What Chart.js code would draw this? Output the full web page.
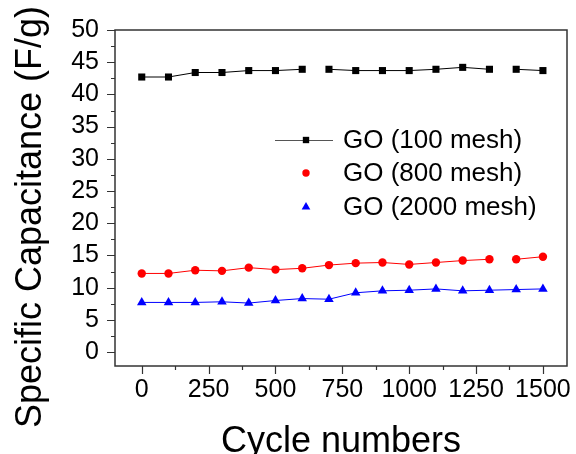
<!DOCTYPE html>
<html>
<head>
<meta charset="utf-8">
<script src="https://cdn.jsdelivr.net/npm/chart.js@4"></script>
<style>
  html, body { margin: 0; padding: 0; background: #fff; }
  #wrap { width: 576px; height: 454px; }
</style>
</head>
<body>
<div id="wrap"><canvas id="chartCap" width="576" height="454"></canvas></div>
<script>
// cycle numbers on x
const CYCLES = [0, 100, 200, 300, 400, 500, 600, 700, 800, 900, 1000, 1100, 1200, 1300, 1400, 1500];

// specific capacitance (F/g) for each mesh size
const GO_100 = [42.7, 42.7, 43.4, 43.4, 43.7, 43.7, 43.9, 43.9, 43.7, 43.7, 43.7, 43.9, 44.2, 43.9, 43.9, 43.7];
const GO_800 = [12.2, 12.2, 12.7, 12.6, 13.1, 12.8, 13.0, 13.5, 13.8, 13.9, 13.6, 13.9, 14.2, 14.4, 14.4, 14.8];
const GO_2000 = [7.7, 7.7, 7.7, 7.8, 7.6, 8.0, 8.3, 8.2, 9.2, 9.5, 9.6, 9.8, 9.5, 9.6, 9.7, 9.8];

const SERIES_NAMES = ['GO (100 mesh)', 'GO (800 mesh)', 'GO (2000 mesh)'];

// tick values (majors get labels)
const X_TICKS = [0, 125, 250, 375, 500, 625, 750, 875, 1000, 1125, 1250, 1375, 1500];
const X_LABELS = [0, 250, 500, 750, 1000, 1250, 1500];
const Y_TICKS = [0, 2.5, 5, 7.5, 10, 12.5, 15, 17.5, 20, 22.5, 25, 27.5, 30, 32.5, 35, 37.5, 40, 42.5, 45, 47.5, 50];
const Y_LABELS = [0, 5, 10, 15, 20, 25, 30, 35, 40, 45, 50];

const FONT = '"Liberation Sans", Arial, sans-serif';

function toPoints(ys) {
  return CYCLES.map((c, i) => ({ x: c, y: ys[i] }));
}

// some segments are missing in the original plot
function gapColor(color, gaps) {
  return ctx => gaps.includes(ctx.p0DataIndex) ? 'rgba(0,0,0,0)' : color;
}

const STYLES = [
  { color: '#000000', point: 'rect', radius: 5, gaps: [6, 13] },
  { color: '#ff0000', point: 'circle', radius: 4.2, gaps: [13] },
  { color: '#0000ff', point: 'triangle', radius: 5.5, gaps: [] }
];

const datasets = [GO_100, GO_800, GO_2000].map((ys, i) => ({
  label: SERIES_NAMES[i],
  data: toPoints(ys),
  borderColor: STYLES[i].color,
  backgroundColor: STYLES[i].color,
  borderWidth: 1,
  pointStyle: STYLES[i].point,
  pointRadius: STYLES[i].radius,
  pointBorderWidth: 0,
  segment: { borderColor: gapColor(STYLES[i].color, STYLES[i].gaps) }
}));

const framePlugin = {
  id: 'frame',
  afterDraw(chart) {
    const { ctx, chartArea: a, scales: { x, y } } = chart;
    ctx.save();

    // box
    ctx.strokeStyle = '#333';
    ctx.lineWidth = 1.5;
    ctx.strokeRect(a.left, a.top, a.right - a.left, a.bottom - a.top);

    // outward ticks
    ctx.lineWidth = 1.2;
    ctx.beginPath();
    X_TICKS.forEach(v => {
      const px = Math.round(x.getPixelForValue(v)) + 0.5;
      const len = X_LABELS.includes(v) ? 8 : 4;
      ctx.moveTo(px, a.bottom);
      ctx.lineTo(px, a.bottom + len);
    });
    Y_TICKS.forEach(v => {
      const py = Math.round(y.getPixelForValue(v)) + 0.5;
      const len = Y_LABELS.includes(v) ? 8 : 4;
      ctx.moveTo(a.left, py);
      ctx.lineTo(a.left - len, py);
    });
    ctx.stroke();

    // axis titles
    ctx.fillStyle = '#000';
    ctx.font = '36px ' + FONT;
    ctx.textAlign = 'center';
    ctx.textBaseline = 'alphabetic';
    ctx.fillText('Cycle numbers', (a.left + a.right) / 2, 452);
    ctx.save();
    ctx.translate(41, 217);
    ctx.rotate(-Math.PI / 2);
    ctx.fillText('Specific Capacitance (F/g)', 0, 0);
    ctx.restore();

    // legend inside the plot
    ctx.font = '26px ' + FONT;
    ctx.textAlign = 'left';
    ctx.textBaseline = 'middle';
    const rows = [140, 173, 207];
    STYLES.forEach((s, i) => {
      const ly = rows[i];
      if (i === 0) {
        ctx.strokeStyle = '#555';
        ctx.lineWidth = 1;
        ctx.beginPath();
        ctx.moveTo(275, ly + 0.5);
        ctx.lineTo(333, ly + 0.5);
        ctx.stroke();
      }
      ctx.fillStyle = s.color;
      ctx.strokeStyle = s.color;
      Chart.helpers.drawPoint(ctx, { pointStyle: s.point, radius: s.radius - 0.5, rotation: 0, borderWidth: 0 }, 306, ly);
      ctx.fillStyle = '#000';
      ctx.fillText(SERIES_NAMES[i], 343, ly + 1);
    });

    ctx.restore();
  }
};

new Chart(document.getElementById('chartCap').getContext('2d'), {
  type: 'line',
  data: { datasets },
  options: {
    responsive: false,
    animation: false,
    layout: { padding: { top: 30, right: 9, left: 0, bottom: 0 } },
    plugins: { legend: { display: false }, tooltip: { enabled: false } },
    scales: {
      x: {
        type: 'linear',
        min: -100,
        max: 1590,
        afterBuildTicks: s => { s.ticks = X_LABELS.map(v => ({ value: v })); },
        afterFit: s => { s.height = 88; },
        grid: { display: false },
        border: { display: false },
        ticks: { color: '#000', font: { family: FONT, size: 25 }, padding: 1, maxRotation: 0, autoSkip: false, callback: v => String(v) }
      },
      y: {
        min: -2.17,
        max: 50,
        afterBuildTicks: s => { s.ticks = Y_LABELS.map(v => ({ value: v })); },
        afterFit: s => { s.width = 115; },
        grid: { display: false },
        border: { display: false },
        ticks: { color: '#000', font: { family: FONT, size: 25 }, padding: 8, autoSkip: false, callback: v => String(v) }
      }
    }
  },
  plugins: [framePlugin]
});
</script>
</body>
</html>
